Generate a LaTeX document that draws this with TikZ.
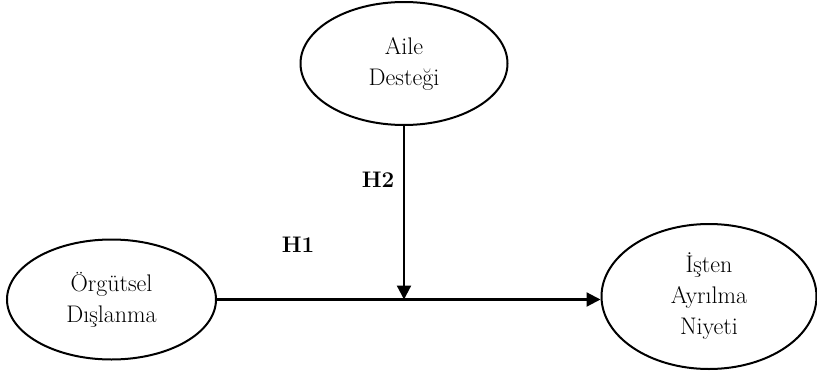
\documentclass[tikz,border=0pt]{standalone}
\usepackage{fontspec}
\usetikzlibrary{shapes.geometric,arrows.meta}
\begin{document}
\begin{tikzpicture}[x=1pt,y=-1pt,
  varbox/.style={ellipse,draw,line width=2pt,inner sep=0pt,align=center,
    font=\fontsize{24}{31}\selectfont},
  pathline/.style={line width=2.2pt,-{Triangle[length=14pt,width=14pt]}},
  hlabel/.style={font=\fontsize{22.5}{26}\selectfont\bfseries}]
  \useasboundingbox (0,0) rectangle (817,383);

  % the three constructs
  \node[varbox,minimum width=207pt,minimum height=123pt] (aile) at (404,63.5) {Aile\\Desteği};
  \node[varbox,minimum width=209pt,minimum height=120pt] (od) at (111.5,299.5) {Örgütsel\\Dışlanma};
  \node[varbox,minimum width=215pt,minimum height=145pt] (ian) at (709,296.5) {İşten\\Ayrılma\\Niyeti};

  % main effect and moderation paths
  \coordinate (meet) at (aile.south |- od.east);
  \draw[pathline] (od.east) -- (ian.west |- od.east);
  \draw[pathline] (aile.south) -- (meet);

  % hypothesis labels
  \node[hlabel] (h1) at (298,245) {H1};
  \node[hlabel] (h2) at (378,180) {H2};
\end{tikzpicture}
\end{document}
